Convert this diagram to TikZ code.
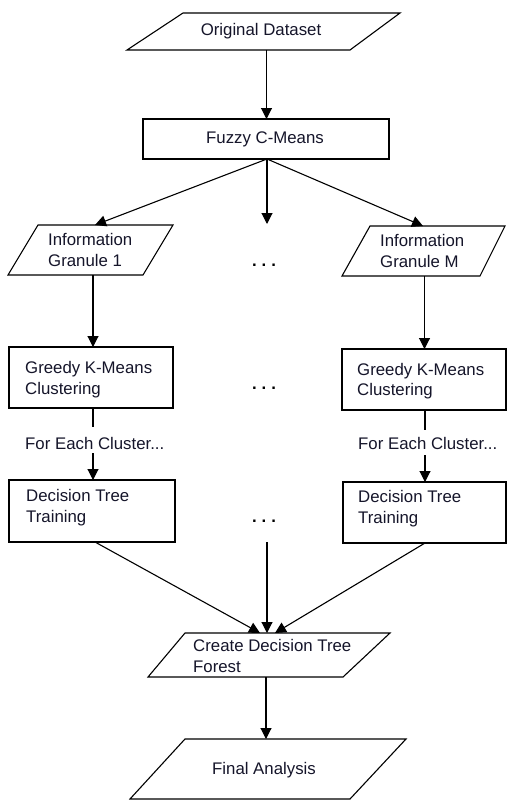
\documentclass[tikz,border=0pt]{standalone}
\usepackage{fontspec}
\setmainfont{Liberation Sans}
\usetikzlibrary{arrows.meta}
\definecolor{txt}{HTML}{15152A}
\newcommand\fsz{\fontsize{16.8}{20.5}\selectfont}
\tikzset{
  shp/.style={draw=black, line width=1.1pt, fill=white, line join=miter},
  lbl/.style={font=\fsz, anchor=west, align=left, inner sep=0pt, text=txt},
  clbl/.style={font=\fsz, anchor=center, align=center, inner sep=0pt, text=txt},
  arr/.style={line width=1.1pt, -{Triangle[width=11pt,length=11pt]}},
  ln/.style={line width=1.1pt},
  dotsn/.style={font=\fsz\bfseries, anchor=base, inner sep=0pt, text=black}
}
\begin{document}
\begin{tikzpicture}[x=1pt,y=-1pt]
\useasboundingbox (0,0) rectangle (507,800);
% shapes
\draw[shp] (183,13) -- (400,13) -- (350,50) -- (127,50) -- cycle;
\draw[shp] (143,119) rectangle (389,159);
\draw[shp] (38,225) -- (173,225) -- (143,275) -- (8,275) -- cycle;
\draw[shp] (370,226) -- (505,226) -- (480,276) -- (342,276) -- cycle;
\draw[shp] (9,347) rectangle (173,408);
\draw[shp] (342,349) rectangle (506,410);
\draw[shp] (9,480) rectangle (175,542);
\draw[shp] (343,482) rectangle (506,543);
\draw[shp] (185,633) -- (390,633) -- (343,677) -- (148,677) -- cycle;
\draw[shp] (185,739) -- (406,739) -- (350,799) -- (130,799) -- cycle;
% texts
\node[clbl] (od) at (261,31) {Original Dataset};
\node[clbl] (fcm) at (265,139) {Fuzzy C-Means};
\node[lbl] (ig1) at (48,250) {Information\\Granule 1};
\node[lbl] (igM) at (380,251) {Information\\Granule M};
\node[lbl] (gk1) at (25,379.5) {Greedy K-Means\\Clustering};
\node[lbl] (gkM) at (357,381) {Greedy K-Means\\Clustering};
\node[lbl] (fe1) at (25,443) {For Each Cluster...};
\node[lbl] (feM) at (358,443.5) {For Each Cluster...};
\node[lbl] (dt1) at (26,507.5) {Decision Tree\\Training};
\node[lbl] (dtM) at (358,508.5) {Decision Tree\\Training};
\node[lbl] (cf) at (193,656) {Create Decision Tree\\Forest};
\node[clbl] (fa) at (264,770) {Final Analysis};
\node[dotsn] (d1) at (264,266) {.\hspace{5pt}.\hspace{5pt}.};
\node[dotsn] (d2) at (264,389.5) {.\hspace{5pt}.\hspace{5pt}.};
\node[dotsn] (d3) at (264,522.5) {.\hspace{5pt}.\hspace{5pt}.};
% connector end points
\coordinate (odB) at (266.5,50);
\coordinate (fcmT) at (266.5,119);
\coordinate (fcmB) at (267,159);
\coordinate (ig1T) at (95,225);
\coordinate (midT) at (267,224);
\coordinate (igMT) at (423,226);
\coordinate (ig1B) at (93,275);
\coordinate (gk1T) at (93,347);
\coordinate (igMB) at (424.5,276);
\coordinate (gkMT) at (424.5,349);
\coordinate (gk1B) at (93,408);
\coordinate (fe1T) at (93,427);
\coordinate (fe1B) at (93,453);
\coordinate (dt1T) at (93,480);
\coordinate (gkMB) at (425,410);
\coordinate (feMT) at (425,430);
\coordinate (feMB) at (425,455);
\coordinate (dtMT) at (425,482);
\coordinate (dt1B) at (95,542);
\coordinate (midB) at (267,542);
\coordinate (dtMB) at (425,543);
\coordinate (cfL) at (260,633);
\coordinate (cfM) at (267,633);
\coordinate (cfR) at (275,633);
\coordinate (cfB) at (266,677);
\coordinate (faT) at (266,739);
% connectors
\draw[arr] (odB) -- (fcmT);
\draw[arr] (fcmB) -- (ig1T);
\draw[arr] (fcmB) -- (midT);
\draw[arr] (fcmB) -- (igMT);
\draw[arr] (ig1B) -- (gk1T);
\draw[arr] (igMB) -- (gkMT);
\draw[ln] (gk1B) -- (fe1T);
\draw[arr] (fe1B) -- (dt1T);
\draw[ln] (gkMB) -- (feMT);
\draw[arr] (feMB) -- (dtMT);
\draw[arr] (dt1B) -- (cfL);
\draw[arr] (midB) -- (cfM);
\draw[arr] (dtMB) -- (cfR);
\draw[arr] (cfB) -- (faT);
\end{tikzpicture}
\end{document}
